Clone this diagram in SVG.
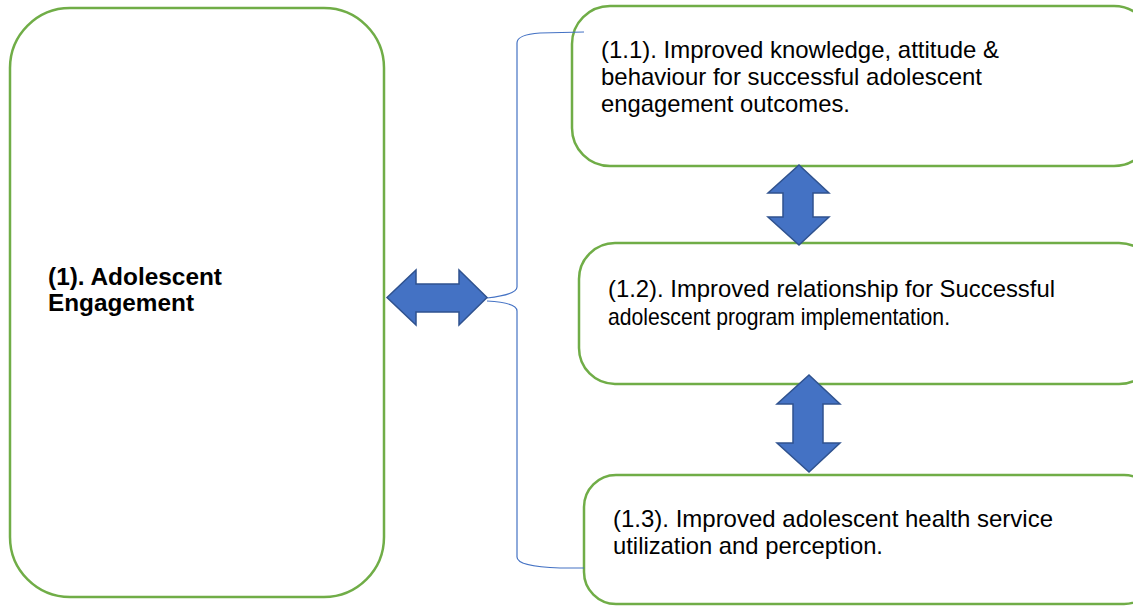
<svg xmlns="http://www.w3.org/2000/svg" width="1133" height="606" viewBox="0 0 1133 606">
<style>
.box{fill:#fff;stroke:#70AD47;stroke-width:2.5}
.arr{fill:#4472C4;stroke:#2F528F;stroke-width:1.5;stroke-linejoin:miter}
.brace{fill:none;stroke:#4472C4;stroke-width:1.2}
.t{font-family:"Liberation Sans",Arial,sans-serif;font-size:23.8px;fill:#000}
.b{font-family:"Liberation Sans",Arial,sans-serif;font-size:23.5px;font-weight:bold;fill:#000}
</style>
<rect width="1133" height="606" fill="#fff"/>
<g id="node-1">
<rect class="box" x="10" y="8" width="374" height="589" rx="60" ry="60"/>
<text class="b" x="48" y="285" textLength="174" lengthAdjust="spacingAndGlyphs">(1). Adolescent</text>
<text class="b" x="48" y="311" textLength="146" lengthAdjust="spacingAndGlyphs">Engagement</text>
</g>
<g id="node-1-1">
<rect class="box" x="572" y="6" width="580" height="160" rx="38" ry="38"/>
<text class="t" x="601" y="58" textLength="398" lengthAdjust="spacingAndGlyphs">(1.1). Improved knowledge, attitude &amp;</text>
<text class="t" x="601" y="85" textLength="381" lengthAdjust="spacingAndGlyphs">behaviour for successful adolescent</text>
<text class="t" x="601" y="112" textLength="249" lengthAdjust="spacingAndGlyphs">engagement outcomes.</text>
</g>
<g id="node-1-2">
<rect class="box" x="579" y="243" width="576" height="141" rx="36" ry="36"/>
<text class="t" x="608" y="297" textLength="447" lengthAdjust="spacingAndGlyphs">(1.2). Improved relationship for Successful</text>
<text class="t" x="608" y="325" textLength="342" lengthAdjust="spacingAndGlyphs">adolescent program implementation.</text>
</g>
<g id="node-1-3">
<rect class="box" x="584" y="475" width="572" height="129" rx="32" ry="32"/>
<text class="t" x="613" y="527" textLength="440" lengthAdjust="spacingAndGlyphs">(1.3). Improved adolescent health service</text>
<text class="t" x="613" y="554" textLength="270" lengthAdjust="spacingAndGlyphs">utilization and perception.</text>
</g>
<g id="connectors">
<path class="brace" d="M584,32 L540,33 C525,34 517,37 517,43 L517,287 C517,293 505,296 487,298"/>
<path class="brace" d="M487,301 C505,302 517,305 517,311 L517,557 C517,563 530,567 560,568 L584,568"/>
<polygon class="arr" points="387,297.5 416,270 416,284 459,284 459,270 487,297.5 459,325 459,312 416,312 416,325"/>
<polygon class="arr" points="799,165 829,193 813,193 813,217 829,217 799,245 768,217 783,217 783,193 768,193"/>
<polygon class="arr" points="809,375 840,404 823,404 823,443 840,443 809,472 777,443 793,443 793,404 777,404"/>
</g>
</svg>
